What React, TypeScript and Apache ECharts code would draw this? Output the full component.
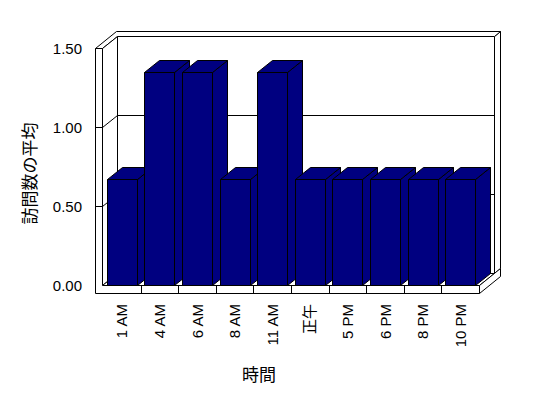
import React, { useEffect, useRef } from "react";
import * as echarts from "echarts";

const categories = ["1 AM", "4 AM", "6 AM", "8 AM", "11 AM", "正午", "5 PM", "6 PM", "8 PM", "10 PM"];
const visits = [0.67, 1.35, 1.35, 0.67, 1.35, 0.67, 0.67, 0.67, 0.67, 0.67];
const gridValues = [0.5, 1.0];

const NAVY = "#000080";
const LINE = "#000000";

const snap = (v: number) => Math.round(v) + 0.5;

function poly(points: number[][], fill: string) {
  return {
    type: "polygon",
    shape: { points: points.map((p) => [snap(p[0]), snap(p[1])]) },
    style: { fill, stroke: LINE, lineWidth: 1 },
  };
}
function seg(x1: number, y1: number, x2: number, y2: number) {
  return {
    type: "line",
    shape: { x1: snap(x1), y1: snap(y1), x2: snap(x2), y2: snap(y2) },
    style: { stroke: LINE, lineWidth: 1 },
  };
}

function frameRender(params: any, api: any) {
  const cs = params.coordSys;
  const x0 = cs.x;
  const x1 = cs.x + cs.width;
  const yT = cs.y;
  const yB = cs.y + cs.height;
  const band = api.size([1, 0])[0];
  const DX = band * 0.4;
  const DY = DX * 0.8;
  const TX = DX * 0.4;
  const TY = DY * 0.4;
  const wl = x0 - 1;
  const wo = wl - 7;
  const ft = 8;
  const W = "#ffffff";
  const children: any[] = [];
  children.push(poly([[wl + DX, yT - DY], [x1 + DX, yT - DY], [x1 + DX, yB - DY], [wl + DX, yB - DY]], W));
  children.push(poly([[x1 + DX, yT - DY], [x1 + DX + TX, yT - DY - TY], [x1 + DX + TX, yB - DY - TY], [x1 + DX, yB - DY]], W));
  children.push(poly([[wo, yT], [wl, yT], [wl + DX, yT - DY], [x1 + DX, yT - DY], [x1 + DX + TX, yT - DY - TY], [wo + DX + TX, yT - DY - TY]], W));
  children.push(poly([[wl, yT], [wl + DX, yT - DY], [wl + DX, yB - DY], [wl, yB]], W));
  children.push(poly([[wl, yB], [x1, yB], [x1 + DX, yB - DY], [wl + DX, yB - DY]], W));
  children.push(poly([[x1, yB], [x1 + DX + TX, yB - DY - TY], [x1 + DX + TX, yB - DY - TY + ft], [x1, yB + ft]], W));
  children.push(poly([[wo, yT], [wl, yT], [wl, yB], [x1, yB], [x1, yB + ft], [wo, yB + ft]], W));
  gridValues.forEach((v) => {
    const y = api.coord([0, v])[1];
    children.push(seg(wo, y, wl, y));
    children.push(seg(wl, y, wl + DX, y - DY));
    children.push(seg(wl + DX, y - DY, x1 + DX, y - DY));
  });
  for (let k = 1; k < categories.length; k++) {
    const x = x0 + k * band;
    children.push(seg(x, yB, x, yB + ft));
  }
  return { type: "group", children };
}

function barRender(params: any, api: any) {
  const i = api.value(0);
  const v = api.value(1);
  const top = api.coord([i, v]);
  const base = api.coord([i, 0]);
  const band = api.size([1, 0])[0];
  const bw = band * 0.8;
  const DX = band * 0.4;
  const DY = DX * 0.8;
  const cx = top[0];
  const yt = top[1];
  const yb = base[1];
  const xl = cx - bw / 2;
  const xr = cx + bw / 2;
  return {
    type: "group",
    children: [
      poly([[xr, yt], [xr + DX, yt - DY], [xr + DX, yb - DY], [xr, yb]], NAVY),
      poly([[xl, yt], [xr, yt], [xr + DX, yt - DY], [xl + DX, yt - DY]], NAVY),
      poly([[xl, yt], [xr, yt], [xr, yb], [xl, yb]], NAVY),
    ],
  };
}

export default function App() {
  const ref = useRef<HTMLDivElement>(null);
  useEffect(() => {
    document.body.style.margin = "0";
    const chart = echarts.init(ref.current!, null, { renderer: "svg" });
    chart.setOption({
      animation: false,
      backgroundColor: "#ffffff",
      grid: { left: 103, right: 69, top: 48, bottom: 113 },
      xAxis: {
        type: "category",
        data: categories,
        axisLine: { show: false },
        axisTick: { show: false },
        splitLine: { show: false },
        axisLabel: {
          rotate: 90,
          margin: 19,
          interval: 0,
          color: "#000",
          fontSize: 15,
          fontFamily: "Liberation Sans, Noto Sans CJK JP, sans-serif",
        },
        name: "時間",
        nameLocation: "middle",
        nameGap: 80,
        nameTextStyle: {
          color: "#000",
          fontSize: 17,
          fontFamily: "Noto Sans CJK JP, sans-serif",
          padding: [0, 64, 0, 0],
        },
      },
      yAxis: {
        type: "value",
        min: 0,
        max: 1.5,
        interval: 0.5,
        axisLine: { show: false },
        axisTick: { show: false },
        splitLine: { show: false },
        axisLabel: {
          margin: 21,
          color: "#000",
          fontSize: 15,
          fontFamily: "Liberation Sans, sans-serif",
          formatter: (v: number) => v.toFixed(2),
        },
        name: "訪問数の平均",
        nameLocation: "middle",
        nameRotate: 90,
        nameGap: 66,
        nameTextStyle: {
          color: "#000",
          fontSize: 17,
          fontFamily: "Noto Sans CJK JP, sans-serif",
          padding: [0, 14, 0, 0],
        },
      },
      series: [
        {
          type: "custom",
          z: 1,
          silent: true,
          renderItem: frameRender,
          data: [[0, 0]],
          encode: { x: 0, y: 1 },
        },
        {
          type: "custom",
          z: 2,
          renderItem: barRender,
          data: categories.map((c, i) => [i, visits[i]]),
          encode: { x: 0, y: 1 },
        },
      ],
    });
    return () => chart.dispose();
  }, []);
  return (
    <div
      ref={ref}
      style={{ position: "fixed", left: 0, top: 0, width: 548, height: 398 }}
    />
  );
}
